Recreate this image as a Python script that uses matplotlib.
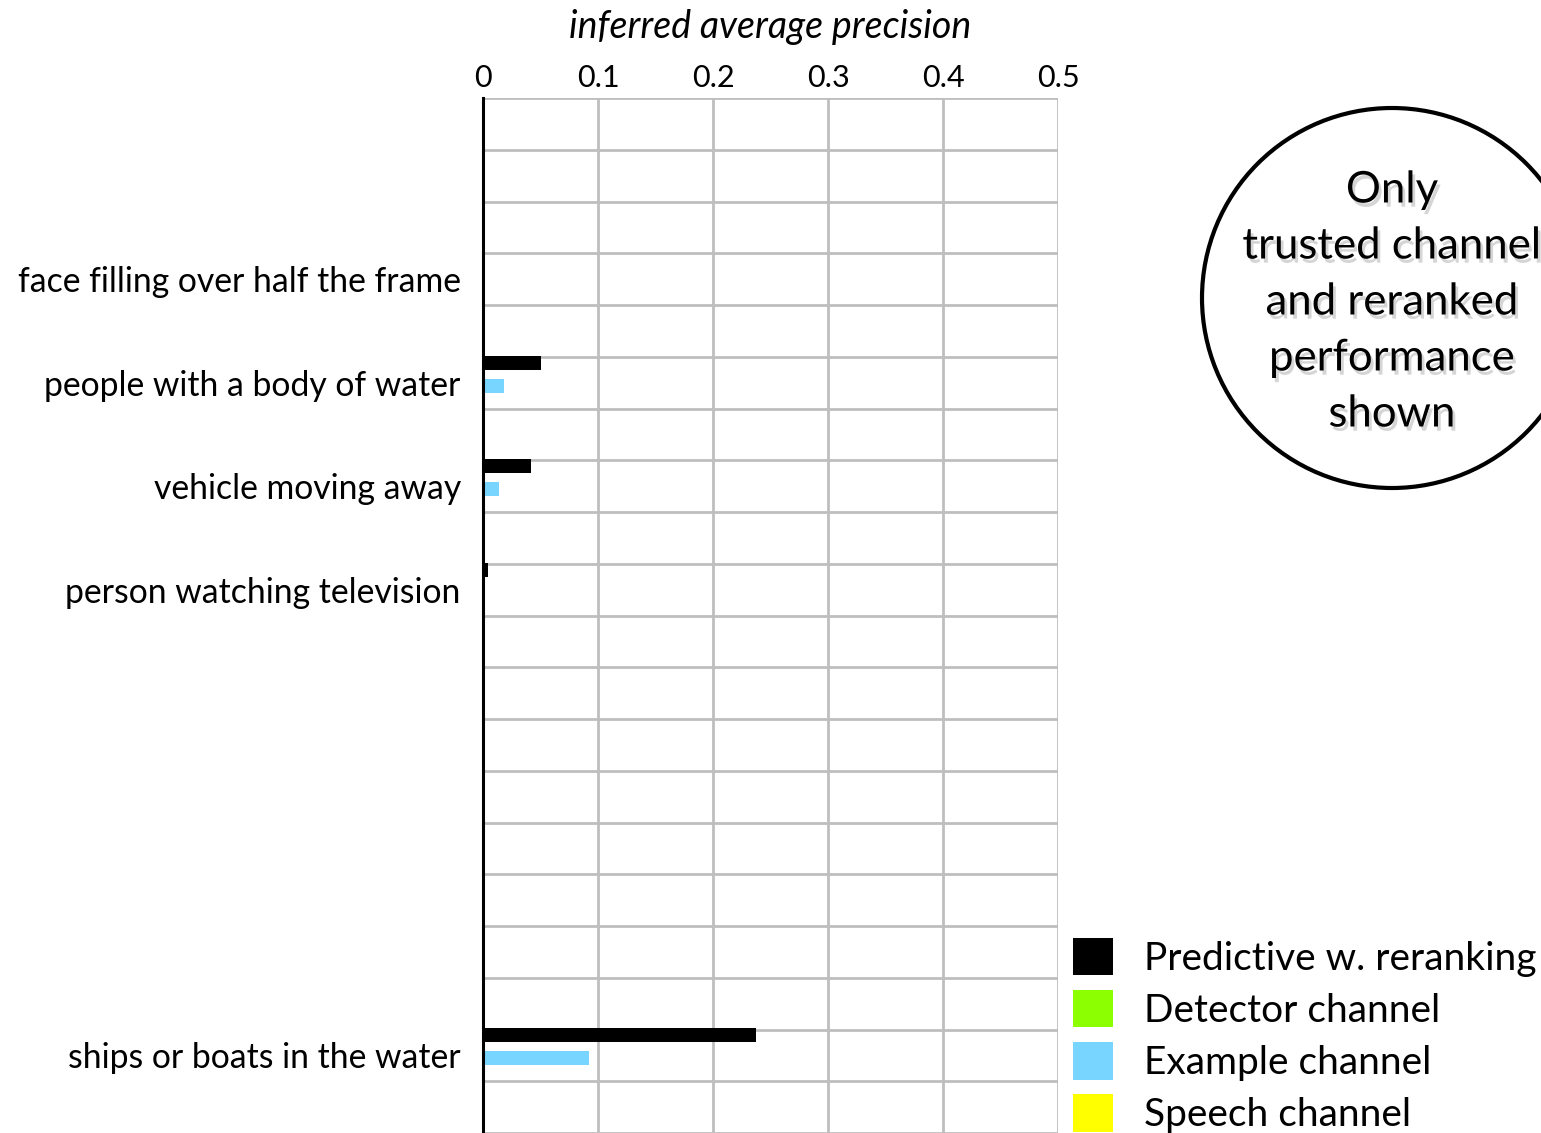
import matplotlib
matplotlib.use("Agg")
import matplotlib.pyplot as plt
import matplotlib.patheffects as pe
from matplotlib.patches import Circle
import numpy as np

plt.rcParams['font.family'] = ['Lato', 'DejaVu Sans']

# one row per query; only some rows carry a label
row_labels = ["", "", "", "face filling over half the frame", "",
              "people with a body of water", "", "vehicle moving away", "",
              "person watching television", "", "", "", "", "", "", "", "",
              "ships or boats in the water", ""]

series_names = ["Predictive w. reranking", "Detector channel",
                "Example channel", "Speech channel"]
series_colors = ["#000000", "#8CFF00", "#77D5FF", "#FFFF00"]

predictive = [0, 0, 0, 0, 0, 0.050, 0, 0.042, 0, 0.004, 0, 0, 0, 0, 0, 0, 0, 0, 0.237, 0]
detector = [0] * 20
example = [0, 0, 0, 0, 0, 0.018, 0, 0.014, 0, 0, 0, 0, 0, 0, 0, 0, 0, 0, 0.092, 0]
speech = [0] * 20
values = [predictive, detector, example, speech]

W, H = 1541, 1133
fig = plt.figure(figsize=(W / 100, H / 100), dpi=100)
ax = fig.add_axes([483 / W, 0, 575 / W, 1 - 98 / H])

rows = np.arange(len(row_labels))
offsets = [0.115, 0.335, 0.56, 0.785]
bar_h = 0.27
for vals, col, name, off in zip(values, series_colors, series_names, offsets):
    ax.barh(rows + off, vals, height=bar_h, color=col, label=name,
            linewidth=0, zorder=3)

ax.set_xlim(0, 0.5)
ax.set_ylim(19.92, 0)

# grid: row boundaries and 0.1 steps
ax.set_yticks(np.arange(0, 21), minor=True)
ax.set_yticks(rows + 0.5)
ax.set_yticklabels(row_labels, fontsize=24.3)
ax.grid(True, which='minor', axis='y', color='#BEBEBE', linewidth=2, zorder=1)
ax.grid(True, which='major', axis='x', color='#BEBEBE', linewidth=2, zorder=1)
ax.tick_params(axis='y', which='both', length=0, pad=16)
ax.set_xticks([0, 0.1, 0.2, 0.3, 0.4, 0.5])
ax.set_xticklabels(["0", "0.1", "0.2", "0.3", "0.4", "0.5"], fontsize=22)
ax.xaxis.tick_top()
ax.xaxis.set_label_position('top')
ax.tick_params(axis='x', length=0, pad=4)
ax.set_xlabel("inferred average precision", fontsize=27, style='italic',
              labelpad=19)

for s in ['top', 'right', 'bottom']:
    ax.spines[s].set_visible(False)
ax.spines['left'].set_linewidth(2.2)
ax.spines['left'].set_zorder(4)

leg = ax.legend(loc='upper left', bbox_to_anchor=(1073 / W, 1 - 938 / H),
                bbox_transform=fig.transFigure, frameon=False, fontsize=28,
                handlelength=1.03, handleheight=1.1, handletextpad=0.8,
                labelspacing=0.34, borderaxespad=0, borderpad=0)

# callout circle in pixel coordinates
over = fig.add_axes([0, 0, 1, 1], zorder=5)
over.set_xlim(0, W)
over.set_ylim(H, 0)
over.axis('off')
over.patch.set_alpha(0)
over.add_patch(Circle((1392, 298), 190, fill=False, edgecolor='black',
                      linewidth=3))
note = ["Only", "trusted channel", "and reranked", "performance", "shown"]
for k, line in enumerate(note):
    over.text(1392, 190 + 56 * k, line, ha='center', va='center', fontsize=31.5,
              path_effects=[pe.withSimplePatchShadow(offset=(2, -3),
                                                     shadow_rgbFace='#888888',
                                                     alpha=0.35)])

fig.savefig("out.png", dpi=100)
